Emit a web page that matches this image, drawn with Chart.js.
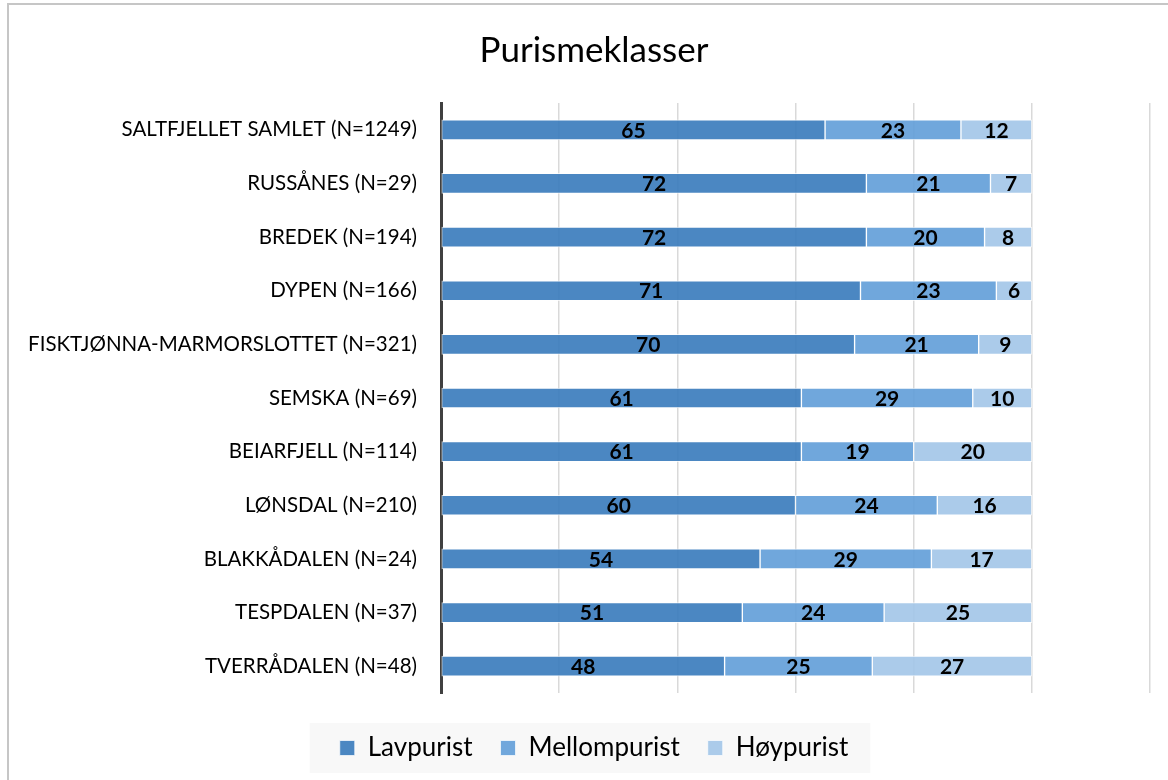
<!DOCTYPE html>
<html>
<head>
<meta charset="utf-8">
<title>Purismeklasser</title>
<script src="https://cdn.jsdelivr.net/npm/chart.js@4.4.0/dist/chart.umd.min.js"></script>
<style>
    html, body { margin: 0; padding: 0; background: #fff; }
    #wrap { width: 1168px; height: 780px; position: relative; }
</style>
</head>
<body>
<div id="wrap"><canvas id="myChart" width="1168" height="780"></canvas></div>
<script>
var omraader = ['SALTFJELLET SAMLET (N=1249)', 'RUSSÅNES (N=29)', 'BREDEK (N=194)', 'DYPEN (N=166)',
    'FISKTJØNNA-MARMORSLOTTET (N=321)', 'SEMSKA (N=69)', 'BEIARFJELL (N=114)', 'LØNSDAL (N=210)',
    'BLAKKÅDALEN (N=24)', 'TESPDALEN (N=37)', 'TVERRÅDALEN (N=48)'];
var lavpurist = [65, 72, 72, 71, 70, 61, 61, 60, 54, 51, 48];
var mellompurist = [23, 21, 20, 23, 21, 29, 19, 24, 29, 24, 25];
var hoypurist = [12, 7, 8, 6, 9, 10, 20, 16, 17, 25, 27];
var fontFamily = 'Lato, "Liberation Sans", sans-serif';

// verdier skrevet midt i hvert segment
var verdiEtiketter = {
    id: 'verdiEtiketter',
    afterDatasetsDraw: function (chart) {
        var ctx = chart.ctx;
        ctx.save();
        ctx.font = 'bold 21px ' + fontFamily;
        ctx.fillStyle = '#000';
        ctx.textAlign = 'center';
        ctx.textBaseline = 'middle';
        chart.data.datasets.forEach(function (ds, i) {
            chart.getDatasetMeta(i).data.forEach(function (bar, j) {
                ctx.fillText(ds.data[j], (bar.x + bar.base) / 2, bar.y + 1);
            });
        });
        ctx.restore();
    }
};

// ramme rundt diagrammet og grå bakgrunn bak forklaringen
var ramme = {
    id: 'ramme',
    beforeDraw: function (chart) {
        var ctx = chart.ctx;
        ctx.save();
        ctx.strokeStyle = '#c6c6c6';
        ctx.lineWidth = 2;
        ctx.beginPath();
        ctx.moveTo(8, 780);
        ctx.lineTo(8, 4);
        ctx.lineTo(1168, 4);
        ctx.stroke();
        var boxes = chart.legend.legendHitBoxes;
        if (boxes && boxes.length) {
            var first = boxes[0], last = boxes[boxes.length - 1];
            var midY = first.top + first.height / 2;
            ctx.fillStyle = '#f8f8f8';
            ctx.fillRect(first.left - 30, midY - 25,
                last.left + last.width - first.left + 52, 50);
        }
        ctx.restore();
    }
};

new Chart(document.getElementById('myChart').getContext('2d'), {
    type: 'bar',
    data: {
        labels: omraader,
        datasets: [{
            label: 'Lavpurist',
            data: lavpurist,
            backgroundColor: 'rgba(55,122,187,0.9)'
        }, {
            label: 'Mellompurist',
            data: mellompurist,
            backgroundColor: 'rgba(96,157,216,0.9)'
        }, {
            label: 'Høypurist',
            data: hoypurist,
            backgroundColor: 'rgba(162,197,232,0.9)'
        }]
    },
    options: {
        indexAxis: 'y',
        responsive: false,
        animation: false,
        borderColor: 'rgba(255,255,255,0.7)',
        borderWidth: 1,
        borderSkipped: false,
        barThickness: 20,
        layout: { padding: { left: 24, right: 4, top: 18, bottom: 9 } },
        scales: {
            x: {
                stacked: true,
                min: 0,
                max: 120,
                ticks: { display: false, stepSize: 20 },
                grid: { color: '#d9d9d9', lineWidth: 1.5, drawTicks: false },
                border: { display: false },
                afterFit: function (scale) { scale.height = 14; }
            },
            y: {
                stacked: true,
                grid: { display: false, drawTicks: false },
                border: { display: true, color: '#404040', width: 3 },
                ticks: { color: '#000', padding: 24, font: { family: fontFamily, size: 20.5 } },
                afterFit: function (scale) { scale.width = 417; }
            },
            // tom akse til høyre, gir luft mellom plottet og kanten
            hoyre: {
                type: 'linear',
                position: 'right',
                axis: 'y',
                ticks: { display: false },
                grid: { display: false, drawTicks: false },
                border: { display: false },
                afterFit: function (scale) { scale.width = 14; }
            }
        },
        plugins: {
            title: {
                display: true,
                text: 'Purismeklasser',
                color: '#000',
                font: { family: fontFamily, size: 35, weight: 'normal' },
                padding: { top: 12, bottom: 31 }
            },
            legend: {
                position: 'bottom',
                labels: {
                    color: '#000',
                    boxWidth: 15,
                    boxHeight: 15,
                    padding: 28,
                    font: { family: fontFamily, size: 26 }
                }
            },
            tooltip: { enabled: false }
        }
    },
    plugins: [verdiEtiketter, ramme]
});
</script>
</body>
</html>
